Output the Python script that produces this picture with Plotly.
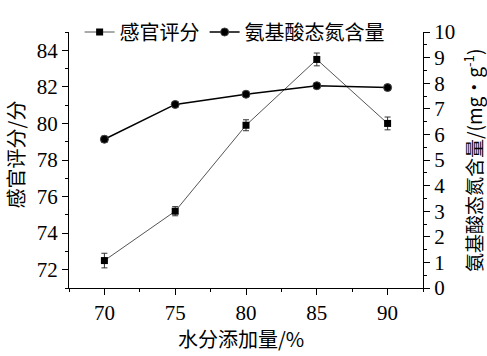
import plotly.graph_objects as go

water = [70, 75, 80, 85, 90]
sensory = [72.5, 75.2, 79.9, 83.5, 80.0]
sensory_err = [0.4, 0.25, 0.3, 0.35, 0.35]
amino_n = [5.81, 7.17, 7.57, 7.90, 7.83]
amino_err = [0.12, 0.1, 0.08, 0.1, 0.1]

CJK = "Noto Sans CJK SC"
SERIF = "Liberation Serif"

L, R, T, B = 69, 64, 12, 68
W, H = 487, 356
PW, PH = W - L - R, H - T - B

fig = go.Figure()
fig.add_trace(go.Scatter(
    x=water, y=sensory, name="感官评分", mode="lines+markers",
    line=dict(color="#555555", width=1),
    marker=dict(symbol="square", size=7, color="black"),
    error_y=dict(type="data", array=sensory_err, color="#333333", thickness=1, width=3),
    yaxis="y",
))
fig.add_trace(go.Scatter(
    x=water, y=amino_n, name="氨基酸态氮含量", mode="lines+markers",
    line=dict(color="black", width=1.5),
    marker=dict(symbol="circle", size=8, color="black", line=dict(color="#444", width=1)),
    error_y=dict(type="data", array=amino_err, color="#333333", thickness=1, width=3),
    yaxis="y2",
))

axis_common = dict(
    showline=True, linecolor="black", linewidth=1.2, mirror=False,
    ticks="outside", ticklen=6, tickwidth=1.2, tickcolor="black",
    showgrid=False, zeroline=False, automargin=False,
    tickfont=dict(family=SERIF, size=21, color="black"),
)

title_font = dict(family=CJK, size=20, color="black")

fig.update_layout(
    width=W, height=H,
    margin=dict(l=L, r=R, t=T, b=B),
    plot_bgcolor="white", paper_bgcolor="white",
    font=dict(family=SERIF, size=20, color="black"),
    showlegend=True,
    legend=dict(
        orientation="h", x=0.03, y=1.0, xanchor="left", yanchor="middle",
        font=dict(family=CJK, size=20, color="black"),
        bgcolor="rgba(255,255,255,0)", itemwidth=30, tracegroupgap=0,
    ),
    xaxis=dict(
        range=[67.5, 92.5], tickvals=water,
        minor=dict(ticks="outside", ticklen=3, tickwidth=1, tickcolor="black", dtick=2.5, tick0=67.5),
        **axis_common,
    ),
    yaxis=dict(
        range=[71, 85], tickvals=[72, 74, 76, 78, 80, 82, 84],
        minor=dict(ticks="outside", ticklen=3, tickwidth=1, tickcolor="black", dtick=1, tick0=71),
        **axis_common,
    ),
    yaxis2=dict(
        range=[0, 10], tickvals=list(range(0, 11)), overlaying="y", side="right",
        minor=dict(ticks="outside", ticklen=3, tickwidth=1, tickcolor="black", dtick=0.5, tick0=0),
        **axis_common,
    ),
    annotations=[
        dict(text="水分添加量/%", xref="paper", yref="paper",
             x=(241 - L) / PW, y=(H - B - 342) / PH, xanchor="center", yanchor="middle",
             showarrow=False, font=title_font),
        dict(text="感官评分/分", xref="paper", yref="paper",
             x=(15 - L) / PW, y=(H - B - 144) / PH, xanchor="center", yanchor="middle",
             textangle=-90, showarrow=False, font=title_font),
        dict(text="氨基酸态氮含量/(mg•g<sup>-1</sup>)", xref="paper", yref="paper",
             x=(473 - L) / PW, y=(H - B - 151) / PH, xanchor="center", yanchor="middle",
             textangle=-90, showarrow=False, font=dict(family=CJK, size=19, color="black")),
    ],
)

fig.write_html("out.html", config={"displayModeBar": False},
               post_script="document.body.style.margin='0';")
